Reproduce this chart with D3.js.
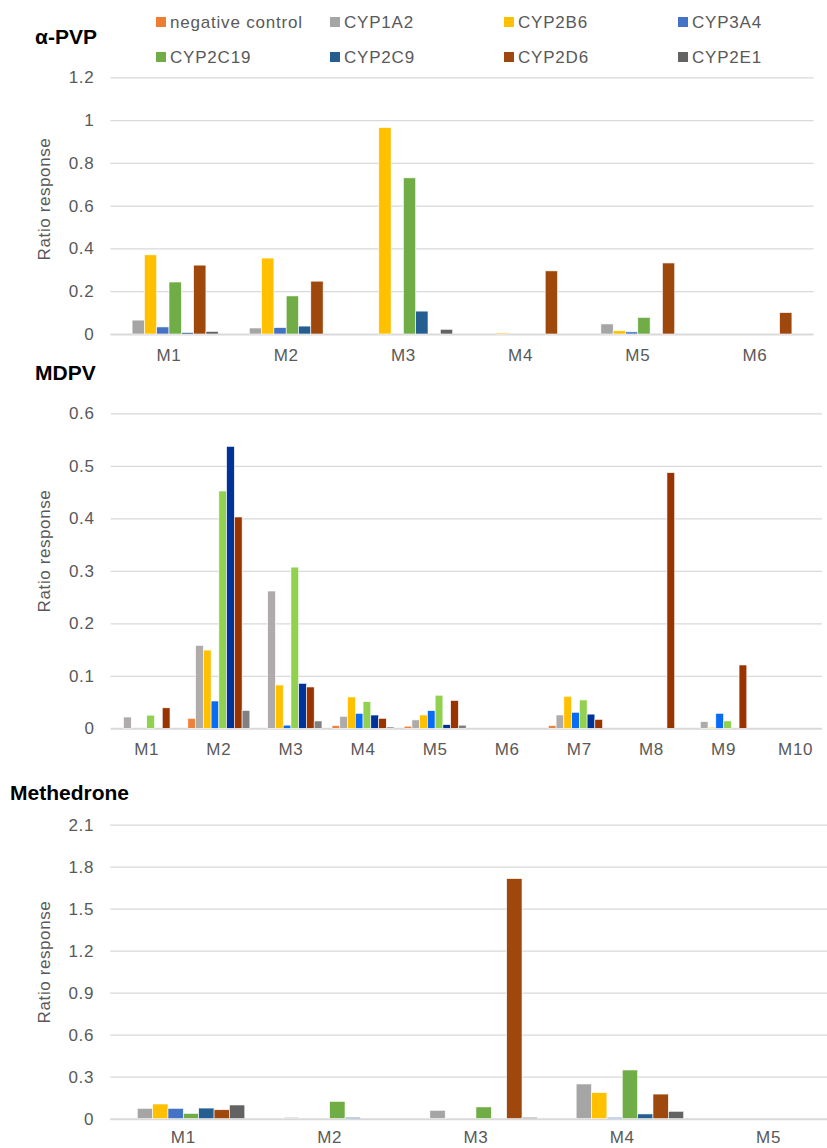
<!DOCTYPE html>
<html>
<head>
<meta charset="utf-8">
<script src="https://cdn.jsdelivr.net/npm/d3@7"></script>
<style>
  body { margin: 0; background: #fff; }
  svg { display: block; font-family: "Liberation Sans", Arial, Helvetica, sans-serif; }
  .tick text { fill: #595959; font-size: 17px; letter-spacing: 0.7px; }
  .legend text { fill: #595959; font-size: 17px; letter-spacing: 0.8px; }
  .panel-title { fill: #000; font-size: 21px; font-weight: bold; }
  .y-title { fill: #595959; font-size: 17px; letter-spacing: 0.6px; }
</style>
</head>
<body>
<svg id="chart" width="827" height="1148"></svg>
<script>
// Series (same order in every panel)
const seriesNames = ['negative control', 'CYP1A2', 'CYP2B6', 'CYP3A4', 'CYP2C19', 'CYP2C9', 'CYP2D6', 'CYP2E1'];

// Office default palette (α-PVP, Methedrone, legend)
const officeColors = ['#ED7D31', '#A5A5A5', '#FFC000', '#4472C4', '#70AD47', '#255E91', '#9E480E', '#636363'];
// MDPV panel uses brighter colours
const mdpvColors = ['#F0813A', '#AFABAB', '#FFC000', '#0A6CF5', '#92D050', '#003399', '#993300', '#808080'];

// α-PVP
const pvpCategories = ['M1', 'M2', 'M3', 'M4', 'M5', 'M6'];
const pvpTicks = [0, 0.2, 0.4, 0.6, 0.8, 1, 1.2];
const pvpValues = [
    [0, 0.065, 0.37, 0.033, 0.243, 0.007, 0.322, 0.012],
    [0, 0.028, 0.355, 0.03, 0.178, 0.037, 0.247, 0],
    [0, 0, 0.965, 0, 0.73, 0.107, 0, 0.022],
    [0, 0, 0.005, 0, 0, 0, 0.295, 0],
    [0, 0.047, 0.015, 0.01, 0.078, 0, 0.332, 0],
    [0, 0, 0, 0, 0, 0, 0.1, 0]
];

// MDPV
const mdpvCategories = ['M1', 'M2', 'M3', 'M4', 'M5', 'M6', 'M7', 'M8', 'M9', 'M10'];
const mdpvTicks = [0, 0.1, 0.2, 0.3, 0.4, 0.5, 0.6];
const mdpvValues = [
    [0, 0.0215, 0, 0, 0.025, 0, 0.039, 0],
    [0.019, 0.158, 0.149, 0.052, 0.452, 0.537, 0.4025, 0.034],
    [0, 0.2615, 0.0825, 0.006, 0.307, 0.0857, 0.0787, 0.014],
    [0.005, 0.0228, 0.0597, 0.0285, 0.0508, 0.0253, 0.019, 0.0025],
    [0.004, 0.016, 0.0254, 0.0336, 0.063, 0.007, 0.053, 0.006],
    [0, 0, 0, 0, 0, 0, 0, 0],
    [0.005, 0.0254, 0.061, 0.0305, 0.054, 0.027, 0.017, 0],
    [0, 0, 0, 0, 0, 0, 0.487, 0],
    [0, 0.0127, 0.002, 0.0285, 0.014, 0, 0.1206, 0],
    [0, 0, 0, 0, 0, 0, 0, 0]
];

// Methedrone
const methCategories = ['M1', 'M2', 'M3', 'M4', 'M5'];
const methTicks = [0, 0.3, 0.6, 0.9, 1.2, 1.5, 1.8, 2.1];
const methValues = [
    [0, 0.074, 0.105, 0.074, 0.038, 0.076, 0.064, 0.098],
    [0, 0.01, 0, 0, 0.124, 0.01, 0, 0],
    [0, 0.06, 0, 0, 0.084, 0, 1.715, 0.01],
    [0, 0.248, 0.186, 0.01, 0.348, 0.034, 0.176, 0.053],
    [0, 0, 0, 0, 0, 0, 0, 0]
];

const svg = d3.select('#chart');

// Legend (two rows of four)
const legend = svg.append('g').attr('class', 'legend');
seriesNames.forEach((name, i) => {
    const col = i % 4, row = Math.floor(i / 4);
    const g = legend.append('g').attr('transform', `translate(${156 + col * 174},${22 + row * 35})`);
    g.append('rect').attr('x', 0).attr('y', -5).attr('width', 10).attr('height', 10).attr('fill', officeColors[i]);
    g.append('text').attr('x', 14).attr('dy', '0.35em').text(name);
});

function drawPanel(opts) {
    const g = svg.append('g');
    const x0 = d3.scaleBand().domain(opts.categories).range([opts.left, opts.right]);
    const step = x0.bandwidth();
    const x1 = d3.scaleBand().domain(seriesNames)
        .range([step * opts.gap, step * (1 - opts.gap)]);
    const y = d3.scaleLinear().domain([0, opts.ticks[opts.ticks.length - 1]]).range([opts.bottom, opts.top]);

    // gridlines + tick labels
    const yAxis = g.append('g')
        .attr('transform', `translate(${opts.left},0)`)
        .call(d3.axisLeft(y).tickValues(opts.ticks).tickFormat(d3.format('~g'))
            .tickSize(-(opts.gridRight - opts.left)).tickPadding(16));
    yAxis.select('.domain').remove();
    yAxis.selectAll('.tick line')
        .attr('stroke', '#d9d9d9')
        .attr('stroke-width', d => d === 0 ? 2 : 1.2);

    // bars
    const groups = g.append('g').selectAll('g').data(opts.values).join('g')
        .attr('transform', (d, i) => `translate(${x0(opts.categories[i])},0)`);
    groups.selectAll('rect')
        .data(d => d.map((v, j) => ({ key: seriesNames[j], value: v, color: opts.colors[j] })))
        .join('rect')
        .filter(d => d.value > 0)
        .attr('x', d => x1(d.key))
        .attr('width', x1.bandwidth())
        .attr('y', d => y(d.value))
        .attr('height', d => y(0) - y(d.value))
        .attr('fill', d => d.color)
        .attr('stroke', '#fff')
        .attr('stroke-width', 0.6);

    // category labels
    const xAxis = g.append('g')
        .attr('transform', `translate(0,${opts.bottom})`)
        .call(d3.axisBottom(x0).tickSize(0).tickPadding(opts.labelPad));
    xAxis.select('.domain').remove();

    // panel title
    g.append('text').attr('class', 'panel-title')
        .attr('x', opts.titleX).attr('y', opts.titleY).attr('dy', '0.35em')
        .text(opts.title);

    // y axis title
    g.append('text').attr('class', 'y-title')
        .attr('transform', `translate(44,${opts.yTitleY}) rotate(-90)`)
        .attr('text-anchor', 'middle').attr('dy', '0.35em')
        .text('Ratio response');
}

drawPanel({
    title: 'α-PVP', titleX: 35, titleY: 37,
    categories: pvpCategories, values: pvpValues, ticks: pvpTicks, colors: officeColors,
    left: 110.4, right: 813.6, gridRight: 813.6, top: 77.3, bottom: 334, gap: 0.08,
    yTitleY: 199, labelPad: 15
});

drawPanel({
    title: 'MDPV', titleX: 35, titleY: 373,
    categories: mdpvCategories, values: mdpvValues, ticks: mdpvTicks, colors: mdpvColors,
    left: 110.7, right: 831.7, gridRight: 822, top: 413.3, bottom: 728.3, gap: 0.07,
    yTitleY: 551, labelPad: 15
});

drawPanel({
    title: 'Methedrone', titleX: 10, titleY: 793,
    categories: methCategories, values: methValues, ticks: methTicks, colors: officeColors,
    left: 110.2, right: 841.7, gridRight: 827, top: 824.7, bottom: 1118.7, gap: 0.08,
    yTitleY: 962, labelPad: 12
});
</script>
</body>
</html>
